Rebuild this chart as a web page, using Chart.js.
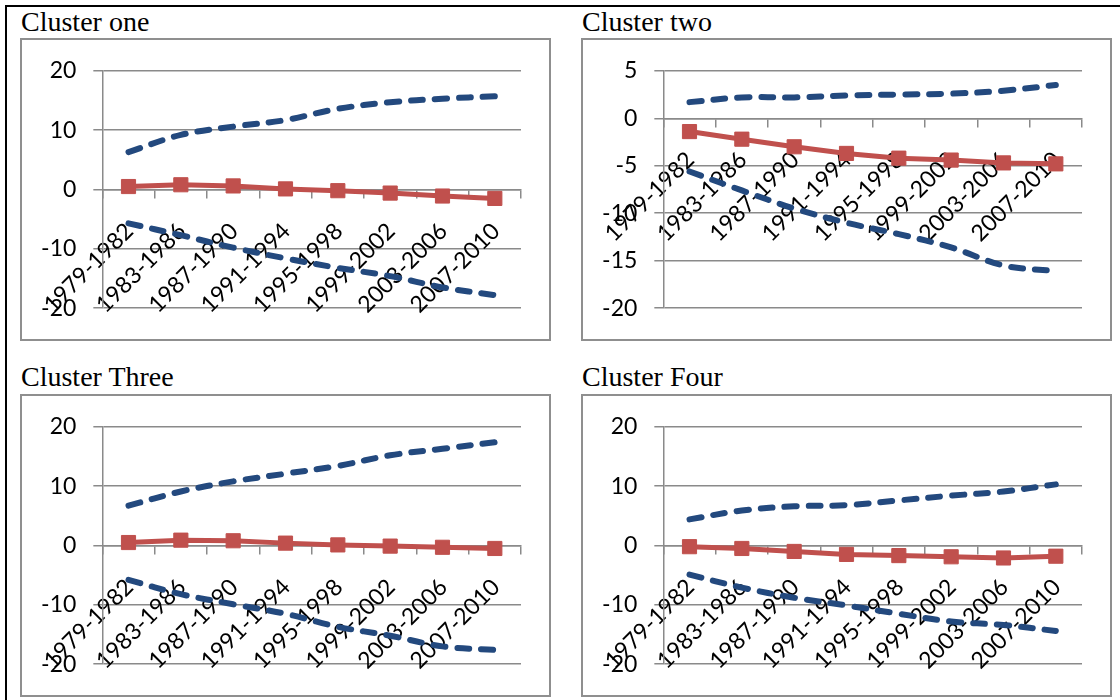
<!DOCTYPE html>
<html>
<head>
<meta charset="utf-8">
<script src="https://cdn.jsdelivr.net/npm/chart.js@4.4.1/dist/chart.umd.min.js"></script>
<style>
  body { margin: 0; background: #fff; width: 1120px; height: 700px; overflow: hidden; position: relative; }
  .frame { position: absolute; left: 5px; top: 5px; width: 1200px; height: 800px; border-left: 2px solid #000; border-top: 2px solid #000; }
  .title { position: absolute; font-family: 'Liberation Serif', 'Times New Roman', serif; font-size: 28px; line-height: 1; color: #000; white-space: nowrap; }
  .box { position: absolute; width: 531px; height: 303px; box-sizing: border-box; border: 2px solid #8f8f8f; background: #fff; }
  .box canvas { display: block; }
</style>
</head>
<body>
<div class="frame"></div>

<div class="title" style="left:21px; top:8px">Cluster one</div>
<div class="box" style="left:20px; top:38px"><canvas id="clusterOne" width="527" height="299"></canvas></div>

<div class="title" style="left:582px; top:8px">Cluster two</div>
<div class="box" style="left:581px; top:38px"><canvas id="clusterTwo" width="527" height="299"></canvas></div>

<div class="title" style="left:21px; top:363px">Cluster Three</div>
<div class="box" style="left:20px; top:394px"><canvas id="clusterThree" width="527" height="299"></canvas></div>

<div class="title" style="left:582px; top:363px">Cluster Four</div>
<div class="box" style="left:581px; top:394px"><canvas id="clusterFour" width="527" height="299"></canvas></div>

<script>
// Periods on the x axis
const periods = ['1979-1982', '1983-1986', '1987-1990', '1991-1994', '1995-1998', '1999-2002', '2003-2006', '2007-2010'];

// Cluster one
const oneMean  = [0.5, 0.8, 0.6, 0.1, -0.2, -0.6, -1.1, -1.5];
const oneUpper = [6.3, 9.2, 10.6, 11.7, 13.6, 14.7, 15.3, 15.7];
const oneLower = [-5.7, -7.7, -9.8, -11.6, -13.2, -14.6, -16.5, -17.8];

// Cluster two
const twoMean  = [-1.4, -2.2, -3.0, -3.7, -4.2, -4.4, -4.7, -4.8];
const twoUpper = [1.7, 2.2, 2.2, 2.4, 2.5, 2.6, 2.9, 3.5];
const twoLower = [-5.6, -7.6, -9.5, -11.0, -12.2, -13.6, -15.5, -16.1];

// Cluster three
const threeMean  = [0.5, 0.9, 0.8, 0.4, 0.1, -0.1, -0.3, -0.5];
const threeUpper = [6.7, 9.1, 10.8, 12.1, 13.4, 15.2, 16.3, 17.4];
const threeLower = [-5.8, -8.2, -9.9, -11.5, -13.7, -15.2, -17.0, -17.6];

// Cluster four
const fourMean  = [-0.2, -0.5, -1.0, -1.5, -1.7, -1.9, -2.1, -1.8];
const fourUpper = [4.4, 5.9, 6.6, 6.8, 7.6, 8.4, 9.1, 10.3];
const fourLower = [-4.9, -7.1, -8.8, -10.1, -11.5, -12.8, -13.4, -14.4];

// Y axis ranges: [min, max, step]
const wideAxis = [-20, 20, 10];
const twoAxis = [-20, 5, 5];

const red = '#c0504d';
const blue = '#23497e';
const gridColor = '#8a8a8a';
const tickFont = { family: 'Lato', size: 23 };

function drawCluster(canvasId, mean, upper, lower, axis) {
    const ctx = document.getElementById(canvasId).getContext('2d');
    new Chart(ctx, {
        type: 'line',
        data: {
            labels: periods,
            datasets: [
                {
                    data: mean,
                    borderColor: red,
                    backgroundColor: red,
                    borderWidth: 5,
                    pointStyle: 'rect',
                    pointRadius: 10,
                    pointBorderWidth: 1,
                    tension: 0
                },
                {
                    data: upper,
                    borderColor: blue,
                    borderWidth: 6,
                    borderDash: [12, 12],
                    borderCapStyle: 'round',
                    pointRadius: 0,
                    tension: 0.35
                },
                {
                    data: lower,
                    borderColor: blue,
                    borderWidth: 6,
                    borderDash: [12, 12],
                    borderCapStyle: 'round',
                    pointRadius: 0,
                    tension: 0.35
                }
            ]
        },
        options: {
            responsive: false,
            animation: false,
            events: [],
            layout: { padding: { left: 0, top: 27, right: 28, bottom: 30 } },
            plugins: {
                legend: { display: false },
                tooltip: { enabled: false }
            },
            scales: {
                x: {
                    position: { y: 0 },
                    offset: true,
                    grid: {
                        drawOnChartArea: false,
                        drawTicks: true,
                        tickLength: 8,
                        color: gridColor,
                        lineWidth: 1.5,
                        offset: true
                    },
                    border: { color: gridColor, width: 1.5 },
                    ticks: {
                        autoSkip: false,
                        minRotation: 45,
                        maxRotation: 45,
                        padding: 20,
                        labelOffset: 1,
                        color: '#000',
                        font: tickFont
                    }
                },
                y: {
                    min: axis[0],
                    max: axis[1],
                    afterFit: (scale) => { scale.width = 80; },
                    grid: { color: gridColor, lineWidth: 1.5, tickLength: 9 },
                    border: { color: gridColor, width: 1.5 },
                    ticks: {
                        stepSize: axis[2],
                        padding: 17,
                        color: '#000',
                        font: tickFont
                    }
                }
            }
        }
    });
}

drawCluster('clusterOne', oneMean, oneUpper, oneLower, wideAxis);
drawCluster('clusterTwo', twoMean, twoUpper, twoLower, twoAxis);
drawCluster('clusterThree', threeMean, threeUpper, threeLower, wideAxis);
drawCluster('clusterFour', fourMean, fourUpper, fourLower, wideAxis);
</script>
</body>
</html>
